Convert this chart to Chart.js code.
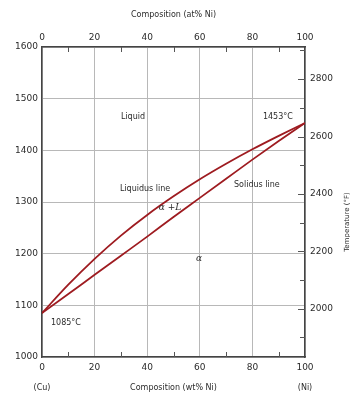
<!DOCTYPE html>
<html>
<head>
<meta charset="utf-8">
<script src="https://cdn.jsdelivr.net/npm/chart.js@4"></script>
<style>
  html, body { margin: 0; padding: 0; background: #fff; }
  #wrap { width: 350px; height: 394px; }
</style>
</head>
<body>
<div id="wrap"><canvas id="phase" width="350" height="394"></canvas></div>
<script>
// composition (wt% Ni) and the two boundary curves (°C)
const wtNi = [0, 10, 20, 30, 40, 50, 60, 70, 80, 90, 100];
const liquidusC = [1085, 1140, 1190, 1235, 1275, 1311, 1344, 1374, 1402, 1428, 1453];
const solidusC = [1085, 1122, 1159, 1196, 1233, 1271, 1308, 1345, 1382, 1418, 1453];

const fahrenheitTicks = [2000, 2200, 2400, 2600, 2800];
const fahrenheitMinor = [1900, 2000, 2100, 2200, 2300, 2400, 2500, 2600, 2700, 2800, 2900];
const compMinor = [10, 30, 50, 70, 90];

// text placed in data units (wt% Ni, °C)
const notes = [
  { text: "Liquid", x: 34.6, y: 1464 },
  { text: "1453°C", x: 89.7, y: 1464 },
  { text: "Liquidus line", x: 39.2, y: 1326 },
  { text: "Solidus line", x: 81.7, y: 1333 },
  { text: "α +L", x: 48.7, y: 1290, serif: true },
  { text: "α", x: 59.7, y: 1190, serif: true },
  { text: "1085°C", x: 9.1, y: 1066 }
];

const toF = c => c * 9 / 5 + 32;
const ink = "#2b2b2b";
const red = "#9e1b20";
const grid = "#b8b8b8";
const tickFont = { family: "DejaVu Sans", size: 9 };
const smallFont = { family: "DejaVu Sans", size: 8 };
const plain = v => String(v);

// inward minor ticks, inner labels and the end labels
const extras = {
  id: "extras",
  afterDatasetsDraw(chart) {
    const { ctx, chartArea: a, scales } = chart;
    const x = scales.x, y2 = scales.y2;
    ctx.save();
    ctx.strokeStyle = "#555";
    ctx.lineWidth = 1;
    ctx.beginPath();
    compMinor.forEach(v => {
      const px = Math.round(x.getPixelForValue(v)) + 0.5;
      ctx.moveTo(px, a.bottom); ctx.lineTo(px, a.bottom - 5);
      ctx.moveTo(px, a.top); ctx.lineTo(px, a.top + 5);
    });
    fahrenheitMinor.forEach(v => {
      const py = Math.round(y2.getPixelForValue(v)) + 0.5;
      const len = fahrenheitTicks.includes(v) ? 7 : 5;
      ctx.moveTo(a.right, py); ctx.lineTo(a.right - len, py);
    });
    ctx.stroke();

    ctx.fillStyle = ink;
    ctx.textAlign = "center";
    ctx.textBaseline = "middle";
    notes.forEach(n => {
      ctx.font = n.serif ? "italic 9px 'DejaVu Serif'" : "8px 'DejaVu Sans'";
      ctx.fillText(n.text, x.getPixelForValue(n.x), scales.y.getPixelForValue(n.y));
    });

    ctx.font = "8px 'DejaVu Sans'";
    ctx.fillText("(Cu)", x.getPixelForValue(0), 388);
    ctx.fillText("(Ni)", x.getPixelForValue(100), 388);

    ctx.translate(347, (a.top + a.bottom) / 2 + 20);
    ctx.rotate(-Math.PI / 2);
    ctx.font = "7px 'DejaVu Sans'";
    ctx.fillText("Temperature (°F)", 0, 0);
    ctx.restore();
  }
};

new Chart(document.getElementById("phase"), {
  type: "line",
  data: {
    datasets: [
      {
        label: "Liquidus",
        data: wtNi.map((w, i) => ({ x: w, y: liquidusC[i] })),
        borderColor: red,
        borderWidth: 1.8,
        pointRadius: 0,
        cubicInterpolationMode: "monotone"
      },
      {
        label: "Solidus",
        data: wtNi.map((w, i) => ({ x: w, y: solidusC[i] })),
        borderColor: red,
        borderWidth: 1.8,
        pointRadius: 0,
        cubicInterpolationMode: "monotone"
      }
    ]
  },
  options: {
    responsive: false,
    animation: false,
    devicePixelRatio: 1,
    layout: { padding: 0 },
    plugins: { legend: { display: false }, tooltip: { enabled: false } },
    scales: {
      x: {
        type: "linear",
        position: "bottom",
        min: 0, max: 100,
        ticks: { stepSize: 20, font: tickFont, color: ink, padding: 5, maxRotation: 0, callback: plain },
        grid: { color: grid, drawTicks: false },
        border: { color: "#444", width: 1.5 },
        title: { display: true, text: "Composition (wt% Ni)", font: smallFont, color: ink, padding: { top: 0, bottom: 1 } },
        afterFit: s => { s.height = 37; }
      },
      x2: {
        type: "linear",
        position: "top",
        min: 0, max: 100,
        ticks: { stepSize: 20, font: tickFont, color: ink, padding: 4, maxRotation: 0, callback: plain },
        grid: { drawOnChartArea: false, drawTicks: false },
        border: { color: "#444", width: 1.5 },
        title: { display: true, text: "Composition (at% Ni)", font: smallFont, color: ink, padding: { top: 10, bottom: 0 } },
        afterFit: s => { s.height = 47; }
      },
      y: {
        type: "linear",
        position: "left",
        min: 1000, max: 1600,
        ticks: { stepSize: 100, font: tickFont, color: ink, padding: 4, callback: plain },
        grid: { color: grid, drawTicks: false },
        border: { color: "#444", width: 1.5 },
        afterFit: s => { s.width = 42; }
      },
      y2: {
        type: "linear",
        position: "right",
        min: toF(1000), max: toF(1600),
        afterBuildTicks: s => { s.ticks = fahrenheitTicks.map(v => ({ value: v })); },
        ticks: { font: tickFont, color: ink, padding: 5, callback: plain },
        grid: { drawOnChartArea: false, drawTicks: false },
        border: { color: "#444", width: 1.5 },
        afterFit: s => { s.width = 45; }
      }
    }
  },
  plugins: [extras]
});
</script>
</body>
</html>
